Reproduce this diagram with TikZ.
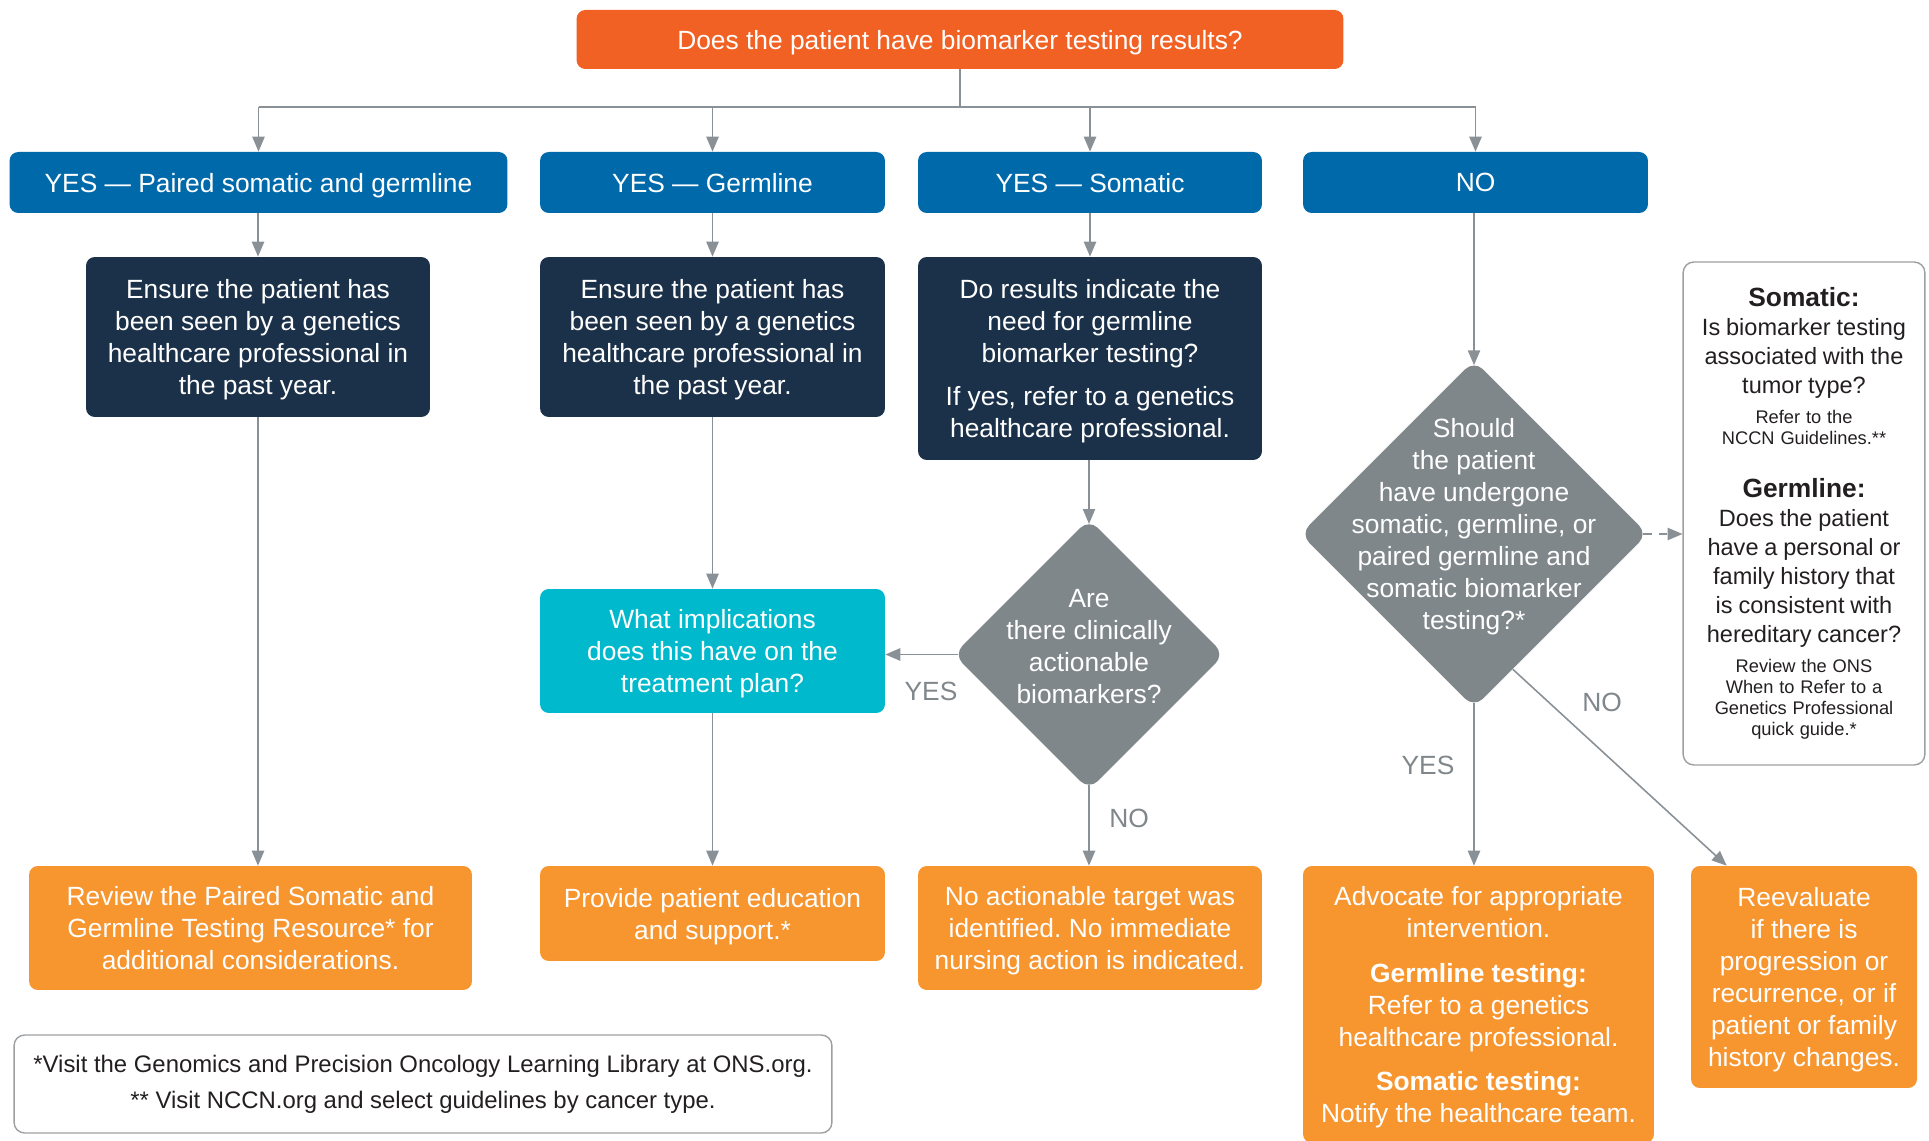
\documentclass[tikz,border=0pt]{standalone}
\usepackage{fontspec}
\setmainfont{Liberation Sans}
\usepackage{tikz}
\usetikzlibrary{arrows.meta,shapes,positioning,calc}
\frenchspacing

\definecolor{topred}{HTML}{F26124}
\definecolor{yesblue}{HTML}{0069AA}
\definecolor{navy}{HTML}{1B3149}
\definecolor{tealbox}{HTML}{00B9CC}
\definecolor{decgray}{HTML}{80878B}
\definecolor{actorange}{HTML}{F7952F}
\definecolor{linegray}{HTML}{8A9196}
\definecolor{notegray}{HTML}{9C9FA2}
\definecolor{textdark}{HTML}{231F20}

\tikzset{
  box/.style={rectangle, rounded corners=5pt, align=center, text=white, inner sep=2pt, text depth=0pt,
    font=\fontsize{15}{18.2}\selectfont},
  decision/.style={diamond, rounded corners=7pt, fill=decgray, inner sep=0pt},
  dtext/.style={align=center, text=white, text depth=0pt, font=\fontsize{15}{18.2}\selectfont},
  answer/.style={text=decgray, font=\fontsize{15}{18}\selectfont},
  conn/.style={draw=linegray, line width=0.9pt},
  arr/.style={conn, -{Triangle[width=7pt,length=8.5pt]}},
  note/.style={rectangle, rounded corners=6pt, draw=notegray, line width=0.8pt, text=textdark, align=center}
}

\begin{document}
\begin{tikzpicture}[x=0.02cm, y=-0.02cm]
  \useasboundingbox (0,0) rectangle (1929,1141);
  %question on top
    \node[box, fill=topred, minimum width=15.34cm, minimum height=1.18cm] (top) at (960,39.5) {Does the patient have biomarker testing results?};
  %answer boxes
    \node[box, fill=yesblue, minimum width=9.96cm, minimum height=1.22cm] (paired) at (258.5,182.5) {YES — Paired somatic and germline};
    \node[box, fill=yesblue, minimum width=6.9cm, minimum height=1.22cm] (germ) at (712.5,182.5) {YES — Germline};
    \node[box, fill=yesblue, minimum width=6.88cm, minimum height=1.22cm] (soma) at (1090,182.5) {YES — Somatic};
    \node[box, fill=yesblue, minimum width=6.9cm, minimum height=1.22cm] (nores) at (1475.5,182.5) {NO};
  %dark question boxes
    \node[box, fill=navy, minimum width=6.88cm, minimum height=3.2cm] (seen1) at (258,337) {Ensure the patient has\\been seen by a genetics\\healthcare professional in\\the past year.};
    \node[box, fill=navy, minimum width=6.9cm, minimum height=3.2cm] (seen2) at (712.5,337) {Ensure the patient has\\been seen by a genetics\\healthcare professional in\\the past year.};
    \node[box, fill=navy, minimum width=6.88cm, minimum height=4.06cm] (need) at (1090,358.5) {Do results indicate the\\need for germline\\biomarker testing?\\[6pt]If yes, refer to a genetics\\healthcare professional.};
    \node[box, fill=tealbox, minimum width=6.9cm, minimum height=2.48cm] (impl) at (712.5,651) {What implications\\does this have on the\\treatment plan?};
  %decisions
    \node[decision, minimum width=5.42cm, minimum height=5.42cm] (action) at (1089,654.5) {};
    \node[dtext] (actiontxt) at (1089,646) {Are\\there clinically\\actionable\\biomarkers?};
    \node[decision, minimum width=6.95cm, minimum height=6.95cm] (should) at (1474,534) {};
    \node[dtext] (shouldtxt) at (1474,524) {Should\\the patient\\have undergone\\somatic, germline, or\\paired germline and\\somatic biomarker\\testing?*};
  %guide on the right
    \node[note, minimum width=4.76cm, minimum height=10.06cm, text width=4.6cm] (guide) at (1804,513.5) {%
      {\fontsize{15}{16.5}\selectfont\bfseries Somatic:\par}
      {\fontsize{13.4}{16.5}\selectfont Is biomarker testing\\associated with the\\tumor type?\par}
      \vspace{5pt}
      {\fontsize{10.4}{12}\selectfont Refer to the\\NCCN Guidelines.**\par}
      \vspace{14pt}
      {\fontsize{15}{16.5}\selectfont\bfseries Germline:\par}
      {\fontsize{13.4}{16.5}\selectfont Does the patient\\have a personal or\\family history that\\is consistent with\\hereditary cancer?\par}
      \vspace{5pt}
      {\fontsize{10.4}{12}\selectfont Review the ONS\\When to Refer to a\\Genetics Professional\\quick guide.*\par}};
  %action boxes
    \node[box, fill=actorange, minimum width=8.86cm, minimum height=2.48cm] (review) at (250.5,928) {Review the Paired Somatic and\\Germline Testing Resource* for\\additional considerations.};
    \node[box, fill=actorange, minimum width=6.9cm, minimum height=1.9cm] (educ) at (712.5,913.5) {Provide patient education\\and support.*};
    \node[box, fill=actorange, minimum width=6.88cm, minimum height=2.48cm] (notarget) at (1090,928) {No actionable target was\\identified. No immediate\\nursing action is indicated.};
    \node[box, fill=actorange, minimum width=7.02cm, minimum height=5.54cm] (advocate) at (1478.5,1004.5) {Advocate for appropriate\\intervention.\\[7pt]{\bfseries Germline testing:}\\Refer to a genetics\\healthcare professional.\\[7pt]{\bfseries Somatic testing:}\\Notify the healthcare team.};
    \node[box, fill=actorange, minimum width=4.52cm, minimum height=4.44cm] (reeval) at (1804,977) {Reevaluate\\if there is\\progression or\\recurrence, or if\\patient or family\\history changes.};
  %footnotes
    \node[note, minimum width=16.36cm, minimum height=1.96cm, font=\fontsize{13.6}{20.5}\selectfont] (foot) at (423,1084) {*Visit the Genomics and Precision Oncology Learning Library at ONS.org.\\** Visit NCCN.org and select guidelines by cancer type.};
  %connectors
    \coordinate (split) at (960,107);
    \draw[conn] (top) -- (split);
    \draw[conn] (paired |- split) -- (nores |- split);
    \draw[arr] (paired |- split) -- (paired.north);
    \draw[arr] (germ |- split) -- (germ.north);
    \draw[arr] (soma |- split) -- (soma.north);
    \draw[arr] (nores |- split) -- (nores.north);
    \draw[arr] (paired.south -| seen1) -- (seen1.north);
    \draw[arr] (germ) -- (seen2);
    \draw[arr] (soma) -- (need);
    \draw[arr, shorten >=-3pt] (nores.south -| should.north) -- (should.north);
    \draw[arr] (seen1.south) -- (seen1.south |- review.north);
    \draw[arr] (seen2) -- (impl);
    \draw[arr] (impl) -- (educ);
    \draw[arr, shorten >=-3pt] (need.south -| action.north) -- (action.north);
    \draw[arr, shorten <=-3pt] (action.west) -- (impl.east |- action.west);
    \draw[arr, shorten <=-3pt] (action.south) -- (action.south |- notarget.north);
    \draw[arr, shorten <=-3pt] (should.south) -- (should.south |- advocate.north);
    \draw[arr] (should.-74) -- ($(reeval.north west)+(36,0)$);
    \draw[arr, dashed, dash pattern=on 5pt off 4pt, shorten <=-3pt] (should.east) -- (guide.west |- should.east);
  %insert answers
    \node[answer] (yes1) at (931,691) {YES};
    \node[answer] (no1) at (1129,818) {NO};
    \node[answer] (yes2) at (1428,765) {YES};
    \node[answer] (no2) at (1602,702) {NO};
\end{tikzpicture}
\end{document}
